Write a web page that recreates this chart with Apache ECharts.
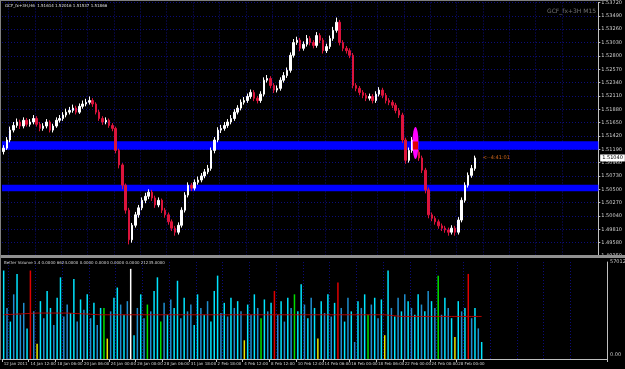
<!DOCTYPE html>
<html><head><meta charset="utf-8">
<script src="https://cdn.jsdelivr.net/npm/echarts@6/dist/echarts.min.js"></script>
<style>html,body{margin:0;padding:0;background:#000;overflow:hidden}#c{width:625px;height:369px}</style>
</head><body><div id="c"></div>
<script>
// ---- data ----
const tickLabels = ["12 Jan 2011","14 Jan 12:00","18 Jan 06:00","20 Jan 06:00","24 Jan 00:00","26 Jan 00:00","28 Jan 06:00","31 Jan 18:00","2 Feb 18:00","4 Feb 12:00","8 Feb 12:00","10 Feb 12:00","14 Feb 06:00","16 Feb 00:00","18 Feb 06:00","22 Feb 00:00","24 Feb 00:00","28 Feb 00:00"];
const openP = [1.5115,1.5121,1.5135,1.5152,1.5160,1.5166,1.5159,1.5169,1.5162,1.5166,1.5172,1.5162,1.5155,1.5159,1.5166,1.5152,1.5159,1.5169,1.5172,1.5178,1.5183,1.5186,1.5190,1.5183,1.5193,1.5197,1.5200,1.5203,1.5197,1.5183,1.5172,1.5166,1.5169,1.5160,1.5155,1.5117,1.5092,1.5057,1.5014,1.4963,1.4988,1.5006,1.5018,1.5031,1.5038,1.5045,1.5035,1.5023,1.5031,1.5014,1.5006,1.4994,1.4983,1.4976,1.4988,1.5014,1.5040,1.5057,1.5052,1.5062,1.5066,1.5073,1.5080,1.5086,1.5117,1.5135,1.5152,1.5155,1.5160,1.5166,1.5172,1.5183,1.5190,1.5200,1.5203,1.5210,1.5217,1.5207,1.5203,1.5214,1.5238,1.5241,1.5229,1.5221,1.5224,1.5238,1.5246,1.5255,1.5281,1.5303,1.5307,1.5293,1.5300,1.5310,1.5303,1.5298,1.5315,1.5307,1.5289,1.5296,1.5310,1.5324,1.5338,1.5303,1.5293,1.5289,1.5281,1.5229,1.5224,1.5217,1.5212,1.5207,1.5210,1.5203,1.5214,1.5221,1.5212,1.5203,1.5200,1.5195,1.5186,1.5178,1.5135,1.5100,1.5117,1.5135,1.5114,1.5104,1.5083,1.5049,1.5006,1.5000,1.4994,1.4987,1.4983,1.4980,1.4976,1.4983,1.4976,1.4997,1.5031,1.5057,1.5074,1.5086];
const closeP = [1.5121,1.5135,1.5152,1.5160,1.5166,1.5159,1.5169,1.5162,1.5166,1.5172,1.5162,1.5155,1.5159,1.5166,1.5152,1.5159,1.5169,1.5172,1.5178,1.5183,1.5186,1.5190,1.5183,1.5193,1.5197,1.5200,1.5203,1.5197,1.5183,1.5172,1.5166,1.5169,1.5160,1.5155,1.5117,1.5092,1.5057,1.5014,1.4963,1.4988,1.5006,1.5018,1.5031,1.5038,1.5045,1.5035,1.5023,1.5031,1.5014,1.5006,1.4994,1.4983,1.4976,1.4988,1.5014,1.5040,1.5057,1.5052,1.5062,1.5066,1.5073,1.5080,1.5086,1.5117,1.5135,1.5152,1.5155,1.5160,1.5166,1.5172,1.5183,1.5190,1.5200,1.5203,1.5210,1.5217,1.5207,1.5203,1.5214,1.5238,1.5241,1.5229,1.5221,1.5224,1.5238,1.5246,1.5255,1.5281,1.5303,1.5307,1.5293,1.5300,1.5310,1.5303,1.5298,1.5315,1.5307,1.5289,1.5296,1.5310,1.5324,1.5338,1.5303,1.5293,1.5289,1.5281,1.5229,1.5224,1.5217,1.5212,1.5207,1.5210,1.5203,1.5214,1.5221,1.5212,1.5203,1.5200,1.5195,1.5186,1.5178,1.5135,1.5100,1.5117,1.5135,1.5114,1.5104,1.5083,1.5049,1.5006,1.5000,1.4994,1.4987,1.4983,1.4980,1.4976,1.4983,1.4976,1.4997,1.5031,1.5057,1.5074,1.5086,1.5104];
const highP = [1.5126,1.5140,1.5158,1.5166,1.5172,1.5170,1.5174,1.5173,1.5171,1.5178,1.5176,1.5166,1.5164,1.5171,1.5169,1.5163,1.5174,1.5178,1.5183,1.5189,1.5192,1.5196,1.5194,1.5198,1.5203,1.5206,1.5210,1.5207,1.5200,1.5187,1.5176,1.5174,1.5172,1.5164,1.5158,1.5120,1.5095,1.5060,1.5018,1.4992,1.5011,1.5023,1.5036,1.5044,1.5050,1.5049,1.5039,1.5036,1.5034,1.5018,1.5010,1.4998,1.4987,1.4993,1.5019,1.5045,1.5062,1.5061,1.5067,1.5072,1.5078,1.5085,1.5092,1.5122,1.5140,1.5157,1.5161,1.5166,1.5171,1.5178,1.5188,1.5195,1.5205,1.5209,1.5215,1.5222,1.5221,1.5211,1.5219,1.5243,1.5247,1.5245,1.5233,1.5229,1.5243,1.5252,1.5260,1.5286,1.5309,1.5313,1.5311,1.5305,1.5316,1.5314,1.5307,1.5321,1.5319,1.5311,1.5301,1.5315,1.5330,1.5346,1.5342,1.5307,1.5297,1.5293,1.5285,1.5233,1.5228,1.5221,1.5216,1.5215,1.5214,1.5219,1.5226,1.5225,1.5216,1.5207,1.5204,1.5199,1.5190,1.5182,1.5139,1.5122,1.5140,1.5145,1.5118,1.5108,1.5087,1.5053,1.5010,1.5004,1.4998,1.4991,1.4987,1.4984,1.4988,1.4987,1.5002,1.5036,1.5062,1.5079,1.5092,1.5108];
const lowP = [1.5110,1.5118,1.5131,1.5148,1.5156,1.5154,1.5155,1.5158,1.5158,1.5162,1.5158,1.5150,1.5151,1.5155,1.5148,1.5148,1.5156,1.5165,1.5168,1.5174,1.5179,1.5182,1.5179,1.5180,1.5189,1.5193,1.5196,1.5192,1.5179,1.5168,1.5161,1.5162,1.5156,1.5150,1.5112,1.5086,1.5050,1.5008,1.4955,1.4958,1.4984,1.5001,1.5014,1.5026,1.5033,1.5030,1.5018,1.5019,1.5009,1.5001,1.4989,1.4978,1.4970,1.4972,1.4984,1.5010,1.5036,1.5047,1.5048,1.5058,1.5062,1.5069,1.5076,1.5082,1.5112,1.5131,1.5147,1.5151,1.5156,1.5162,1.5168,1.5179,1.5186,1.5196,1.5199,1.5206,1.5202,1.5198,1.5199,1.5210,1.5234,1.5224,1.5216,1.5217,1.5220,1.5234,1.5242,1.5251,1.5277,1.5299,1.5288,1.5289,1.5296,1.5298,1.5293,1.5294,1.5302,1.5284,1.5285,1.5292,1.5306,1.5320,1.5298,1.5288,1.5284,1.5276,1.5224,1.5219,1.5212,1.5207,1.5202,1.5203,1.5198,1.5199,1.5210,1.5207,1.5198,1.5195,1.5190,1.5181,1.5173,1.5130,1.5094,1.5096,1.5113,1.5108,1.5099,1.5078,1.5043,1.5000,1.4995,1.4989,1.4982,1.4978,1.4975,1.4970,1.4972,1.4970,1.4972,1.4993,1.5027,1.5053,1.5070,1.5082];
const volume = [52000,30000,22000,38000,50000,26000,33000,18000,52000,28000,9000,34000,24000,40000,30000,20000,36000,48000,25000,32000,27000,47000,22000,35000,29000,38000,24000,33000,20000,30000,30000,12000,28000,36000,42000,32000,26000,34000,53000,14000,30000,38000,24000,32000,28000,40000,48000,22000,33000,26000,35000,30000,46000,24000,36000,28000,32000,20000,38000,30000,26000,34000,22000,40000,49000,27000,33000,25000,36000,30000,34000,28000,11000,32000,26000,38000,30000,24000,35000,28000,33000,40000,26000,34000,22000,36000,30000,38000,28000,44000,32000,24000,36000,30000,12000,34000,27000,38000,25000,33000,45000,30000,22000,36000,28000,10000,34000,30000,38000,26000,32000,36000,24000,35000,14000,52000,30000,25000,36000,28000,38000,34000,30000,26000,38000,32000,28000,40000,34000,30000,49000,26000,36000,30000,24000,13000,34000,28000,30000,50000,24000,30000,18000,10000];
const volColor = ["c","b","c","b","c","b","b","c","r","b","y","c","b","c","c","b","c","c","b","b","c","c","b","c","b","c","b","c","b","c","g","y","b","c","c","b","c","b","w","c","b","c","b","g","b","c","c","g","b","c","b","c","c","b","c","b","b","c","c","b","c","b","c","c","c","b","c","b","c","b","c","b","y","c","b","c","b","g","c","b","c","r","b","c","b","c","b","g","c","c","b","c","b","c","y","c","b","c","b","c","r","b","c","b","c","b","c","b","c","g","b","c","b","c","y","c","b","c","b","c","b","c","b","c","c","b","c","b","c","b","g","b","c","b","c","y","c","b","c","r","b","c","b","c"];
const volMA = [26000,26100,26200,26300,26400,26500,26600,26700,26800,26900,27000,27000,27000,27000,27000,27000,27000,27000,27000,27000,26900,26800,26700,26600,26500,26400,26300,26200,26100,26000,26000,26000,26000,26000,26000,26000,26000,26000,26000,26000,26000,26000,26000,26000,26000,26000,26000,26000,26000,26000,26000,26000,26000,26000,26000,26000,26000,26000,26000,26000,26000,26000,26000,26000,26000,26000,26000,26000,26000,26000,26000,26000,26000,26000,26000,26000,26000,26000,26000,26000,26000,26000,26000,26000,26000,26000,26000,26000,26000,26000,26000,26000,26000,26000,26000,26000,26000,26000,26000,26000,26000,26000,26000,26000,26000,26000,26000,26000,26000,26000,26000,26000,26000,26000,26000,25800,25600,25400,25200,25000,25000,25000,25000,25000,25000,25000,25000,25000,25000,25000,25000,25000,25000,25000,25000,25000,25000,25000,25000,25000,25000,25000,25000,25000];
const bandLevels = [[1.51328, 1.51182], [1.50580, 1.50468]];
const ellipseAt = {bar: 125, price: 1.51300};
const lastClose = closeP[closeP.length - 1];

// ---- layout constants ----
const SLOTS = 181, PER_LABEL = 8, GRID_SHIFT = 2;
const cats = Array.from({length: SLOTS}, (_, i) => String(i));
const nBars = closeP.length;
const volColors = {c:'#00E5FF', b:'#1E90D0', r:'#E00000', w:'#FFFFFF', g:'#00E000', y:'#E8E800'};

const candleData = closeP.map((c, i) => [openP[i], c, lowP[i], highP[i]]);
const volData = volume.map((v, i) => ({value: v, itemStyle: {color: volColors[volColor[i]]}}));

const isTick = (idx) => idx % PER_LABEL === 0 && idx / PER_LABEL < tickLabels.length;
const isGrid = (idx) => (idx - GRID_SHIFT) % PER_LABEL === 0 && idx < SLOTS - 4;
const gridLine = {show: true, interval: (idx) => isGrid(idx), lineStyle: {color: '#0c0c7a', type: [1, 2], width: 1}};
const hGrid = {show: true, lineStyle: {color: '#0c0c7a', type: [1, 2], width: 1}};
const FONT = 'DejaVu Sans';

const chart = echarts.init(document.getElementById('c'), null, {renderer: 'canvas'});
chart.setOption({
  backgroundColor: '#000',
  animation: false,
  grid: [
    {left: 2, right: 18, top: 2, height: 254, show: false},
    {left: 2, right: 18, top: 262, height: 97, show: false}
  ],
  xAxis: [
    {type: 'category', gridIndex: 0, data: cats, boundaryGap: true,
     axisLine: {show: false}, axisTick: {show: false}, axisLabel: {show: false}, splitLine: gridLine},
    {type: 'category', gridIndex: 1, data: cats, boundaryGap: true,
     axisLine: {show: true, lineStyle: {color: '#c0c0c0', width: 1}},
     axisTick: {show: true, interval: (idx) => isTick(idx), length: 3, lineStyle: {color: '#c0c0c0'}},
     axisLabel: {show: true, interval: (idx) => isTick(idx), align: 'left', margin: 3, showMinLabel: true, hideOverlap: false,
       color: '#d0d0d0', fontSize: 4, fontFamily: FONT,
       formatter: (v, idx) => tickLabels[idx / PER_LABEL] || ''},
     splitLine: gridLine}
  ],
  yAxis: [
    {type: 'value', gridIndex: 0, position: 'right', min: 1.4935, max: 1.5372, interval: 0.0023,
     axisLine: {show: true, lineStyle: {color: '#c0c0c0'}},
     axisTick: {show: true, length: 2, lineStyle: {color: '#c0c0c0'}},
     axisLabel: {margin: 3, formatter: (v) => v.toFixed(5), color: '#d0d0d0', fontSize: 5, fontFamily: FONT},
     splitLine: hGrid},
    {type: 'value', gridIndex: 1, position: 'right', min: 0, max: 57012.9,
     axisLine: {show: true, lineStyle: {color: '#c0c0c0'}},
     axisTick: {show: false}, splitLine: {show: false},
     axisLabel: {show: false}}
  ],
  series: [
    {type: 'candlestick', xAxisIndex: 0, yAxisIndex: 0, data: candleData, barWidth: 2,
     itemStyle: {color: '#FFFFFF', color0: '#DC143C', borderColor: '#FFFFFF', borderColor0: '#DC143C', borderWidth: 1}},
    {type: 'line', xAxisIndex: 0, yAxisIndex: 0, data: [], z: 5, silent: true,
     markArea: {silent: true, itemStyle: {color: '#0000FF', opacity: 1},
       data: bandLevels.map(b => [{yAxis: b[0]}, {yAxis: b[1]}])},
     markPoint: {silent: true, data: [
       {coord: [ellipseAt.bar, ellipseAt.price], symbol: 'circle', symbolSize: [6, 32], itemStyle: {color: '#FF00FF'}, label: {show: false}},
       {coord: [ellipseAt.bar, (bandLevels[0][0] + bandLevels[0][1]) / 2], symbol: 'rect', symbolSize: [5, 8], itemStyle: {color: '#E00000'}, label: {show: false}},
       {coord: [nBars + 1, lastClose], symbol: 'rect', symbolSize: [1, 1], itemStyle: {color: 'rgba(0,0,0,0)'},
        label: {show: true, position: 'right', distance: 1, formatter: '<--4:41:01', color: '#D2691E', fontSize: 5, fontFamily: FONT}},
       {coord: [SLOTS - 1, lastClose], symbol: 'rect', symbolSize: [1, 1], itemStyle: {color: 'rgba(0,0,0,0)'},
        label: {show: true, position: 'right', distance: 3, formatter: () => lastClose.toFixed(5), backgroundColor: '#FFFFFF', color: '#000', fontSize: 5, padding: [1, 2], fontFamily: FONT}}
     ]}},
    {type: 'bar', xAxisIndex: 1, yAxisIndex: 1, data: volData, barWidth: 1.5},
    {type: 'line', xAxisIndex: 1, yAxisIndex: 1, data: volMA, symbol: 'none', lineStyle: {color: '#B00000', width: 1}, z: 4}
  ],
  graphic: [
    {type: 'rect', shape: {x: 0, y: 255, width: 625, height: 3}, style: {fill: '#909090'}, z: 10},
    {type: 'rect', shape: {x: 0, y: 0, width: 608, height: 1}, style: {fill: '#808080'}, z: 10},
    {type: 'rect', shape: {x: 0, y: 0, width: 1, height: 360}, style: {fill: '#808080'}, z: 10},
    {type: 'text', left: 5, top: 4, style: {text: 'GCF_fx+3H,H6  1.51614 1.52016 1.51537 1.51866', fill: '#e0e0e0', fontSize: 4, fontFamily: FONT}, z: 10},
    {type: 'text', left: 547, top: 8, style: {text: 'GCF_fx+3H M15', fill: '#707070', fontSize: 6, fontFamily: FONT}, z: 10},
    {type: 'text', left: 4, top: 261, style: {text: 'Better Volume 1.4 0.0000 6624.0000 0.0000 0.0000 0.0000 0.0000 21235.0000', fill: '#d0d0d0', fontSize: 4, fontFamily: FONT}, z: 10},
    {type: 'text', left: 610, top: 259, style: {text: '57012.9', fill: '#c8c8c8', fontSize: 5, fontFamily: FONT}, z: 10},
    {type: 'text', left: 610, top: 352, style: {text: '0.00', fill: '#c8c8c8', fontSize: 5, fontFamily: FONT}, z: 10}
  ]
});
</script></body></html>
